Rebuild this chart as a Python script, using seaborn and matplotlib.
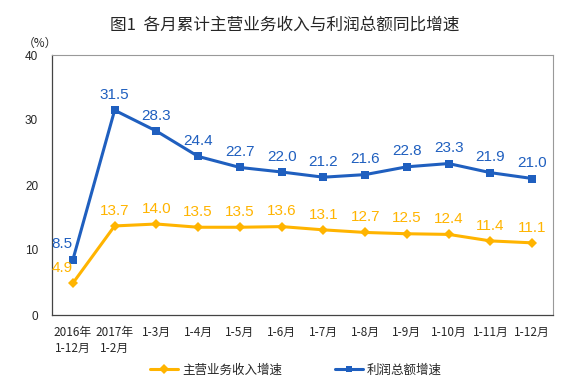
import pandas as pd
import matplotlib
matplotlib.use("Agg")
import matplotlib.pyplot as plt
import seaborn as sns

# data
periods = ["2016年\n1-12月", "2017年\n1-2月", "1-3月", "1-4月", "1-5月", "1-6月",
           "1-7月", "1-8月", "1-9月", "1-10月", "1-11月", "1-12月"]
revenue = [4.9, 13.7, 14.0, 13.5, 13.5, 13.6, 13.1, 12.7, 12.5, 12.4, 11.4, 11.1]
profit = [8.5, 31.5, 28.3, 24.4, 22.7, 22.0, 21.2, 21.6, 22.8, 23.3, 21.9, 21.0]
series_names = ["主营业务收入增速", "利润总额增速"]

df = pd.DataFrame({
    "pos": list(range(len(periods))) * 2,
    "value": revenue + profit,
    "series": [series_names[0]] * len(periods) + [series_names[1]] * len(periods),
})

sns.set_style("white")
plt.rcParams["font.family"] = ["Liberation Sans", "Noto Sans CJK SC", "DejaVu Sans"]

colors = {series_names[0]: "#FFB400", series_names[1]: "#1F5FBF"}
markers = {series_names[0]: "D", series_names[1]: "s"}

fig = plt.figure(figsize=(5.69, 3.89), dpi=100)
ax = fig.add_axes([52 / 569, 1 - 315 / 389, 501 / 569, 260 / 389])

sns.lineplot(data=df, x="pos", y="value", hue="series", style="series",
             palette=colors, markers=markers, dashes=False, linewidth=2.2,
             markersize=5.5, markeredgewidth=0, ax=ax, legend=False)

# value labels
for vals, name in [(revenue, series_names[0]), (profit, series_names[1])]:
    for i, v in enumerate(vals):
        dx = -0.25 if i == 0 else 0
        ax.annotate(f"{v:.1f}", (i + dx, v), xytext=(0, 6), textcoords="offset points",
                    ha="center", va="bottom", fontsize=11, color=colors[name])

ax.set_xlim(-0.5, len(periods) - 0.5)
ax.set_ylim(0, 40)
ax.set_yticks([0, 10, 20, 30, 40])
ax.set_yticklabels(["0", "10", "20", "30", "40"], fontsize=8.5)
ax.set_xticks([i + 0.5 for i in range(len(periods) - 1)])
ax.set_xticklabels([])
ax.set_xticks(range(len(periods)), minor=True)
ax.set_xticklabels(periods, minor=True, fontsize=8.5,
                   family=["Noto Sans CJK SC", "DejaVu Sans"], linespacing=1.3)
ax.tick_params(axis="x", which="minor", length=0, pad=8)
ax.tick_params(axis="x", which="major", direction="in", length=4, color="#555555")
ax.tick_params(axis="y", direction="in", length=4, color="#555555", pad=10)
ax.set_xlabel("")
ax.set_ylabel("")

for side in ["top", "right"]:
    ax.spines[side].set_color("#999999")
    ax.spines[side].set_linewidth(0.8)
for side in ["left", "bottom"]:
    ax.spines[side].set_color("#444444")
    ax.spines[side].set_linewidth(0.9)

fig.text(0.5, 1 - 25 / 389, "图1  各月累计主营业务收入与利润总额同比增速", ha="center", va="center",
         fontsize=12, fontweight="medium", family=["Noto Sans CJK SC", "DejaVu Sans"])
fig.text(40 / 569, 1 - 43 / 389, "（%）", ha="center", va="center", fontsize=8.5,
         family=["Noto Sans CJK SC", "DejaVu Sans"])

# legend
handles = [plt.Line2D([], [], color=colors[n], marker=markers[n], linewidth=2.2,
                      markersize=5, markeredgewidth=0) for n in series_names]
fig.legend(handles, series_names, loc="center", bbox_to_anchor=(0.52, 1 - 370 / 389),
           ncol=2, frameon=False, handlelength=2.3, columnspacing=4.2, handletextpad=0.3,
           prop={"family": "Noto Sans CJK SC", "size": 9})

fig.savefig("out.png", dpi=100)
